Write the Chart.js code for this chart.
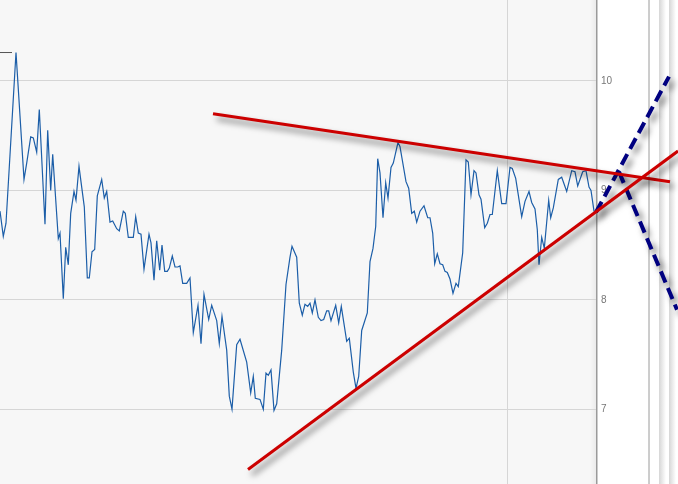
<!DOCTYPE html>
<html>
<head>
<meta charset="utf-8">
<script src="https://cdn.jsdelivr.net/npm/chart.js@4.4.1/dist/chart.umd.min.js"></script>
<style>
  html, body { margin: 0; padding: 0; background: #fff; }
  #wrap { width: 678px; height: 484px; }
</style>
</head>
<body>
<div id="wrap"><canvas id="grafico" width="678" height="484"></canvas></div>
<script>
// posicao no eixo do tempo (sessoes) e cotacao de fechamento
const sessoes = [
    0, 3.3, 6, 16, 24, 26.7, 30.7, 33.3, 36.7, 39.3,
    45, 47.7, 50.7, 52.7, 58.3, 60, 63.3, 65.7, 68.3, 70.7,
    74, 76, 79, 81.7, 84.3, 87.3, 89.3, 92, 94.7, 97.3,
    101.7, 104.3, 106.7, 110, 112.7, 116.7, 119.3, 123.3, 125.3, 128.3,
    131, 133.3, 135.7, 138.3, 141, 144, 149, 151, 154, 156.7,
    159.7, 162, 164.7, 167.3, 169.3, 172.3, 175, 177.7, 180, 182.7,
    186.7, 190, 193.3, 198, 201, 204, 208.7, 211.7, 216.7, 219.3,
    222, 226.7, 229.3, 232, 236.7, 240, 246.7, 250.7, 253.3, 255.3,
    260, 263.3, 266, 268.3, 271, 274, 276.7, 281.7, 286, 290,
    292, 296.7, 299.3, 302.3, 305, 307.7, 310, 312.3, 315, 318.3,
    321, 323.7, 326.7, 328.7, 331, 335.7, 338.7, 341.3, 346.7, 349.3,
    353.3, 356, 358.7, 361.7, 367.3, 370, 373, 375.7, 377.7, 380,
    383, 385.7, 388, 391, 393.3, 398, 400, 406, 408.7, 411.7,
    414.3, 416.7, 420, 424, 427.7, 430, 432.7, 434.7, 437.3, 440,
    442.7, 445, 447.3, 450, 453, 456, 458.3, 462.7, 466, 468.3,
    471, 474, 476, 479, 481, 484.7, 487.3, 490, 492.3, 497.3,
    501.7, 506, 510, 512.3, 515.7, 521.7, 525, 529, 531.7, 535,
    537.3, 539, 541.7, 544.3, 548.7, 550.7, 553.3, 558.3, 561.7, 566.7,
    571.7, 575, 577.7, 582.7, 586, 589, 591, 594, 596
];
const cotacoes = [
    8.81, 8.58, 8.70, 10.26, 9.10, 9.25, 9.49, 9.48, 9.35, 9.74,
    8.69, 9.55, 9.00, 9.33, 8.56, 8.61, 8.01, 8.48, 8.32, 8.79,
    8.99, 8.91, 9.22, 9.03, 8.85, 8.20, 8.20, 8.44, 8.46, 8.95,
    9.10, 8.93, 8.99, 8.71, 8.72, 8.65, 8.63, 8.81, 8.79, 8.57,
    8.57, 8.57, 8.76, 8.61, 8.60, 8.28, 8.60, 8.52, 8.18, 8.54,
    8.27, 8.50, 8.26, 8.26, 8.29, 8.40, 8.30, 8.30, 8.31, 8.15,
    8.15, 8.20, 7.70, 7.95, 7.60, 8.05, 7.82, 7.95, 7.81, 7.60,
    7.85, 7.54, 7.12, 7.00, 7.59, 7.64, 7.43, 7.15, 7.30, 7.10,
    7.09, 7.00, 7.33, 7.31, 7.36, 6.99, 7.05, 7.54, 8.14, 8.39,
    8.49, 8.39, 7.97, 7.86, 7.96, 7.94, 7.97, 7.88, 8.00, 7.84,
    7.81, 7.82, 7.90, 7.90, 7.81, 7.95, 7.79, 7.94, 7.62, 7.65,
    7.34, 7.19, 7.30, 7.72, 7.88, 8.35, 8.47, 8.67, 9.29, 9.16,
    8.75, 9.07, 8.93, 9.21, 9.25, 9.44, 9.40, 9.08, 9.02, 8.79,
    8.81, 8.71, 8.81, 8.86, 8.75, 8.75, 8.61, 8.33, 8.42, 8.33,
    8.32, 8.26, 8.25, 8.19, 8.06, 8.15, 8.12, 8.43, 9.28, 9.26,
    8.96, 9.18, 9.16, 8.96, 8.92, 8.66, 8.70, 8.78, 8.78, 9.18,
    8.88, 8.88, 9.21, 9.20, 9.11, 8.76, 8.90, 8.99, 8.89, 8.83,
    8.64, 8.32, 8.57, 8.47, 8.91, 8.75, 8.84, 9.10, 9.12, 8.99,
    9.18, 9.17, 9.04, 9.17, 9.18, 9.03, 9.00, 8.81, 8.80
];
const ticksPreco = [7, 8, 9, 10];
const ticksSessao = [508];

// linhas de tendencia (inicio e fim em sessao / preco)
const resistenciaX = [213, 670];
const resistenciaY = [9.70, 9.08];
const suporteX = [248, 678];
const suporteY = [6.45, 9.36];
const projAltaX = [596, 669];
const projAltaY = [8.80, 10.04];
const projBaixaX = [619, 677];
const projBaixaY = [9.17, 7.91];
const marcaTopoX = [0, 12];
const marcaTopoY = [10.26, 10.26];

const pontos = sessoes.map((s, i) => ({ x: s, y: cotacoes[i] }));

const fundoPlugin = {
    id: 'fundo',
    beforeDraw(chart) {
        const ctx = chart.ctx;
        const a = chart.chartArea;
        ctx.save();
        ctx.fillStyle = '#ffffff';
        ctx.fillRect(0, 0, chart.width, chart.height);
        ctx.fillStyle = '#f7f7f7';
        ctx.fillRect(a.left, a.top, a.right - a.left, a.bottom - a.top);
        // leve sombra junto a borda do eixo
        const g = ctx.createLinearGradient(a.right - 7, 0, a.right, 0);
        g.addColorStop(0, 'rgba(0,0,0,0)');
        g.addColorStop(1, 'rgba(0,0,0,0.06)');
        ctx.fillStyle = g;
        ctx.fillRect(a.right - 7, a.top, 7, a.bottom - a.top);
        // painel da direita
        ctx.strokeStyle = '#9a9a9a';
        ctx.lineWidth = 1;
        ctx.beginPath();
        ctx.moveTo(a.right + 52, 0);
        ctx.lineTo(a.right + 52, chart.height);
        ctx.stroke();
        [62, 72].forEach(function (off) {
            const gb = ctx.createLinearGradient(a.right + off, 0, a.right + off + 7, 0);
            gb.addColorStop(0, '#d6d6d6');
            gb.addColorStop(1, '#ffffff');
            ctx.fillStyle = gb;
            ctx.fillRect(a.right + off, 0, 7, chart.height);
        });
        ctx.restore();
    }
};

function desenhaLinha(chart, xs, ys, cor, largura, tracejado, sombra) {
    const ctx = chart.ctx;
    const sx = chart.scales.x;
    const sy = chart.scales.y;
    ctx.save();
    ctx.strokeStyle = cor;
    ctx.lineWidth = largura;
    ctx.setLineDash(tracejado);
    if (sombra) {
        ctx.shadowColor = 'rgba(0,0,0,0.55)';
        ctx.shadowBlur = 6;
        ctx.shadowOffsetX = 4;
        ctx.shadowOffsetY = 5;
    }
    ctx.beginPath();
    ctx.moveTo(sx.getPixelForValue(xs[0]), sy.getPixelForValue(ys[0]));
    ctx.lineTo(sx.getPixelForValue(xs[1]), sy.getPixelForValue(ys[1]));
    ctx.stroke();
    ctx.restore();
}

const tendenciaPlugin = {
    id: 'tendencia',
    afterDatasetsDraw(chart) {
        desenhaLinha(chart, marcaTopoX, marcaTopoY, '#555555', 1, [], false);
        desenhaLinha(chart, projAltaX, projAltaY, '#000080', 4, [12, 6], true);
        desenhaLinha(chart, projBaixaX, projBaixaY, '#000080', 4, [12, 6], true);
        desenhaLinha(chart, resistenciaX, resistenciaY, '#cc0000', 3, [], true);
        desenhaLinha(chart, suporteX, suporteY, '#cc0000', 3, [], true);
    }
};

function semPadding(scale) {
    scale.paddingTop = 0;
    scale.paddingBottom = 0;
    scale.paddingLeft = 0;
    scale.paddingRight = 0;
}

const ctxGrafico = document.getElementById('grafico');

var grafico = new Chart(ctxGrafico, {
    type: 'line',
    data: {
        datasets: [{
            data: pontos,
            borderColor: '#1c5ea8',
            borderWidth: 1.2,
            pointRadius: 0,
            tension: 0,
            fill: false
        }]
    },
    options: {
        responsive: false,
        animation: false,
        devicePixelRatio: 1,
        layout: { padding: 0, autoPadding: false },
        plugins: {
            legend: { display: false },
            title: { display: false },
            tooltip: { enabled: false }
        },
        scales: {
            x: {
                type: 'linear',
                min: 0,
                max: 597,
                afterBuildTicks: function (scale) {
                    scale.ticks = ticksSessao.map(v => ({ value: v }));
                },
                afterFit: function (scale) {
                    scale.height = 0;
                    semPadding(scale);
                },
                ticks: { display: false },
                grid: { color: '#d6d6d6', lineWidth: 1, drawTicks: false },
                border: { display: false }
            },
            y: {
                position: 'right',
                min: 6.317,
                max: 10.74,
                afterBuildTicks: function (scale) {
                    scale.ticks = ticksPreco.map(v => ({ value: v }));
                },
                afterFit: function (scale) {
                    scale.width = 81;
                    semPadding(scale);
                },
                ticks: {
                    color: '#777777',
                    padding: 4,
                    font: { family: 'Liberation Sans', size: 10 }
                },
                grid: { color: '#d6d6d6', lineWidth: 1, drawTicks: false },
                border: { display: true, color: '#9a9a9a', width: 1.5 }
            }
        }
    },
    plugins: [fundoPlugin, tendenciaPlugin]
});
</script>
</body>
</html>
